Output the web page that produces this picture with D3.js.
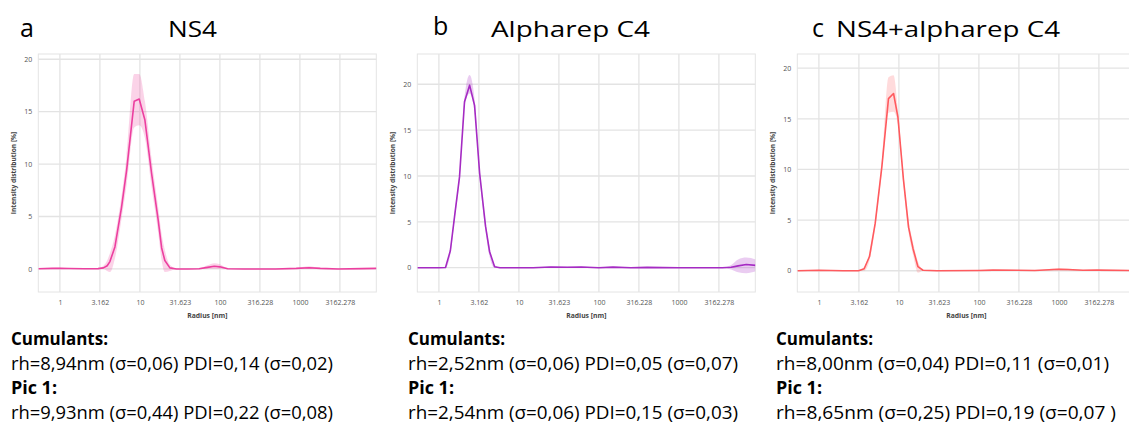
<!DOCTYPE html>
<html><head><meta charset="utf-8">
<script src="https://cdn.jsdelivr.net/npm/d3@7"></script>
<style>
body{margin:0;background:#fff;}
svg{display:block;}
</style></head>
<body>
<svg id="chart" width="1129" height="424"></svg>
<script>
// ---------- data ----------
const xTickValues = [1, 3.162, 10, 31.623, 100, 316.228, 1000, 3162.278];
const xTickLabels = ["1", "3.162", "10", "31.623", "100", "316.228", "1000", "3162.278"];
const yTickValues = [0, 5, 10, 15, 20];

const panelLetters = ["a", "b", "c"];
const panelTitles = ["NS4", "Alpharep C4", "NS4+alpharep C4"];

// NS4
const radiusA    = [0.54,0.8,1.0,1.3,2.0,3.0,3.5,3.9,4.22,4.87,5.9,6.82,8.49,9.8,11.55,14.0,16.9,18.7,20.5,23.7,28.7,40,55,70,85,100,125,200,500,900,1300,1800,3000,6000,9100];
const intensityA = [0.02,0.05,0.07,0.04,0.02,0.03,0.1,0.3,0.7,2.1,5.9,9.4,16.0,16.2,14.2,9.1,4.7,2.0,0.8,0.1,0.0,0.0,0.02,0.15,0.25,0.2,0.02,0.0,0.0,0.05,0.12,0.05,0.0,0.03,0.05];
const lowerA     = [0.0,0.0,0.02,0.0,0.0,0.0,0.0,-0.2,-0.3,1.0,4.8,8.0,13.5,13.7,12.5,7.8,3.5,0.8,-0.3,-0.2,0.0,0.0,0.0,0.0,0.0,0.0,0.0,0.0,0.0,0.0,0.0,0.0,0.0,0.0,0.0];
const upperA     = [0.05,0.1,0.12,0.08,0.05,0.06,0.3,0.8,1.5,3.2,7.0,10.8,18.6,18.6,16.0,10.5,5.9,3.3,1.8,0.4,0.05,0.02,0.08,0.35,0.55,0.45,0.08,0.02,0.02,0.1,0.25,0.1,0.02,0.06,0.08];

// Alpharep C4
const radiusB    = [0.54,1.0,1.21,1.39,1.57,1.81,2.09,2.42,2.79,3.23,3.83,4.30,4.97,5.8,15,25,40,60,100,150,250,400,1000,3500,4500,5500,6950,9100];
const intensityB = [0.0,0.0,0.02,1.85,5.6,9.9,18.1,19.9,17.7,10.3,4.5,1.75,0.1,0.0,0.0,0.07,0.05,0.08,0.0,0.06,0.0,0.03,0.0,0.0,0.05,0.2,0.35,0.25];
const lowerB     = [0.0,0.0,0.0,1.5,5.2,9.5,17.6,19.0,17.0,9.8,4.0,1.2,0.0,0.0,0.0,0.0,0.0,0.0,0.0,0.0,0.0,0.0,0.0,0.0,-0.2,-0.5,-0.6,-0.4];
const upperB     = [0.0,0.0,0.05,2.2,6.0,10.3,18.6,21.0,18.4,10.8,5.0,2.3,0.3,0.02,0.02,0.12,0.1,0.14,0.02,0.1,0.02,0.06,0.02,0.02,0.3,0.9,1.1,0.9];

// NS4+alpharep C4
const radiusC    = [0.54,1.0,2.0,3.13,3.68,4.29,5.06,6.13,7.41,8.57,9.71,11.4,13.2,15.0,17.3,20,30,100,150,300,500,1000,1300,2000,3000,9100];
const intensityC = [0.0,0.05,0.0,0.0,0.2,1.4,4.7,10.3,17.0,17.5,15.2,9.0,4.3,2.2,0.4,0.05,0.0,0.03,0.06,0.05,0.02,0.15,0.12,0.05,0.06,0.02];
const lowerC     = [0.0,0.0,0.0,0.0,0.0,1.0,4.3,9.8,15.6,15.7,14.5,8.5,3.8,1.6,-0.2,0.0,0.0,0.0,0.0,0.0,0.0,0.05,0.0,0.0,0.0,0.0];
const upperC     = [0.02,0.08,0.02,0.02,0.4,1.8,5.1,10.9,19.1,19.3,15.9,9.6,5.0,2.8,0.9,0.1,0.02,0.06,0.1,0.08,0.05,0.25,0.2,0.08,0.1,0.05];

const statsA = ["Cumulants:", "rh=8,94nm (σ=0,06) PDI=0,14 (σ=0,02)", "Pic 1:", "rh=9,93nm (σ=0,44) PDI=0,22 (σ=0,08)"];
const statsB = ["Cumulants:", "rh=2,52nm (σ=0,06) PDI=0,05 (σ=0,07)", "Pic 1:", "rh=2,54nm (σ=0,06) PDI=0,15 (σ=0,03)"];
const statsC = ["Cumulants:", "rh=8,00nm (σ=0,04) PDI=0,11 (σ=0,01)", "Pic 1:", "rh=8,65nm (σ=0,25) PDI=0,19 (σ=0,07 )"];

// ---------- layout ----------
const svg = d3.select("#chart");
const plotTop = 54, plotBottom = 292, plotW = 338;
const xDomain = [0.537, 9016];

const panels = [
  {left: 38.3, yDomain: [-2.2, 20.5], r: radiusA, v: intensityA, lo: lowerA, hi: upperA,
   line: "#EC3F9F", band: "rgba(240,80,165,0.25)", stats: statsA, textX: 11,
   letterX: 20, letterY: 37, titleX: 168, titleW: 49, textW: [97, 322, 46, 322]},
  {left: 417.3, yDomain: [-2.65, 23.3], r: radiusB, v: intensityB, lo: lowerB, hi: upperB,
   line: "#A52BC3", band: "rgba(170,50,200,0.25)", stats: statsB, textX: 408,
   letterX: 433, letterY: 35, titleX: 491, titleW: 159, textW: [97, 330, 46, 330]},
  {left: 797.3, yDomain: [-2.1, 21.4], r: radiusC, v: intensityC, lo: lowerC, hi: upperC,
   line: "#FF5A5E", band: "rgba(255,110,115,0.25)", stats: statsC, textX: 776,
   letterX: 812, letterY: 37, titleX: 836, titleW: 224, textW: [97, 333, 46, 340]}
];

const axisFont = "'Open Sans', 'Noto Sans', sans-serif";
const textFont = "'Open Sans', 'Noto Sans', sans-serif";

svg.append("defs").selectAll("clipPath").data(panels).join("clipPath")
  .attr("id", (d, i) => "clip" + i)
  .append("rect")
  .attr("x", d => d.left).attr("y", plotTop)
  .attr("width", plotW).attr("height", plotBottom - plotTop);

panels.forEach((p, i) => {
  const x = d3.scaleLog().domain(xDomain).range([p.left, p.left + plotW]);
  const y = d3.scaleLinear().domain(p.yDomain).range([plotBottom, plotTop]);
  const g = svg.append("g");

  // frame
  g.append("rect").attr("x", p.left).attr("y", plotTop)
    .attr("width", plotW).attr("height", plotBottom - plotTop)
    .attr("fill", "none").attr("stroke", "#e4e4e4").attr("stroke-width", 1);

  // grid
  g.append("g").selectAll("line").data(xTickValues).join("line")
    .attr("x1", d => x(d)).attr("x2", d => x(d))
    .attr("y1", plotTop).attr("y2", plotBottom)
    .attr("stroke", "#e3e3e3").attr("stroke-width", 1.3);
  g.append("g").selectAll("line").data(yTickValues).join("line")
    .attr("x1", p.left).attr("x2", p.left + plotW)
    .attr("y1", d => y(d)).attr("y2", d => y(d))
    .attr("stroke", "#e3e3e3").attr("stroke-width", 1.3);

  // axes
  const xa = g.append("g").attr("transform", `translate(0,${plotBottom})`)
    .call(d3.axisBottom(x).tickValues(xTickValues)
      .tickFormat((d, k) => xTickLabels[k]).tickSize(0).tickPadding(8));
  const ya = g.append("g").attr("transform", `translate(${p.left},0)`)
    .call(d3.axisLeft(y).tickValues(yTickValues).tickSize(0).tickPadding(6));
  [xa, ya].forEach(a => {
    a.select(".domain").remove();
    a.selectAll("text").attr("font-family", axisFont).attr("font-size", 7)
      .attr("fill", "#555");
  });

  g.append("text").attr("x", p.left + plotW / 2).attr("y", 318)
    .attr("text-anchor", "middle").attr("font-family", axisFont)
    .attr("font-size", 6.8).attr("font-weight", "bold").attr("fill", "#444")
    .text("Radius [nm]");
  g.append("text")
    .attr("transform", `translate(${p.left - 22},${(plotTop + plotBottom) / 2}) rotate(-90)`)
    .attr("text-anchor", "middle").attr("font-family", axisFont)
    .attr("font-size", 6.6).attr("font-weight", "bold").attr("fill", "#444")
    .text("Intensity distribution [%]");

  // band + line
  const pts = p.r.map((r, k) => ({r, v: p.v[k], lo: p.lo[k], hi: p.hi[k]}));
  const data = g.append("g").attr("clip-path", `url(#clip${i})`);
  data.append("path").datum(pts)
    .attr("d", d3.area().x(d => x(d.r)).y0(d => y(d.lo)).y1(d => y(d.hi)).curve(d3.curveMonotoneX))
    .attr("fill", p.band);
  data.append("path").datum(pts)
    .attr("d", d3.line().x(d => x(d.r)).y(d => y(d.v)))
    .attr("fill", "none").attr("stroke", p.line).attr("stroke-width", 1.6)
    .attr("stroke-linejoin", "round");

  // titles
  svg.append("text").attr("x", p.letterX).attr("y", p.letterY)
    .attr("font-family", textFont).attr("font-size", 25).attr("fill", "#000")
    .text(panelLetters[i]);
  svg.append("text").attr("x", p.titleX).attr("y", 37)
    .attr("font-family", textFont).attr("font-size", 21).attr("fill", "#000")
    .attr("textLength", p.titleW).attr("lengthAdjust", "spacingAndGlyphs")
    .text(panelTitles[i]);

  // stats text
  const baselines = [345, 369.5, 394, 418.5];
  p.stats.forEach((s, k) => {
    svg.append("text").attr("x", p.textX).attr("y", baselines[k])
      .attr("font-family", textFont).attr("font-size", 18)
      .attr("font-weight", k % 2 === 0 ? "bold" : "normal").attr("fill", "#000")
      .attr("textLength", p.textW[k]).attr("lengthAdjust", "spacingAndGlyphs")
      .text(s);
  });
});
</script>
</body></html>
